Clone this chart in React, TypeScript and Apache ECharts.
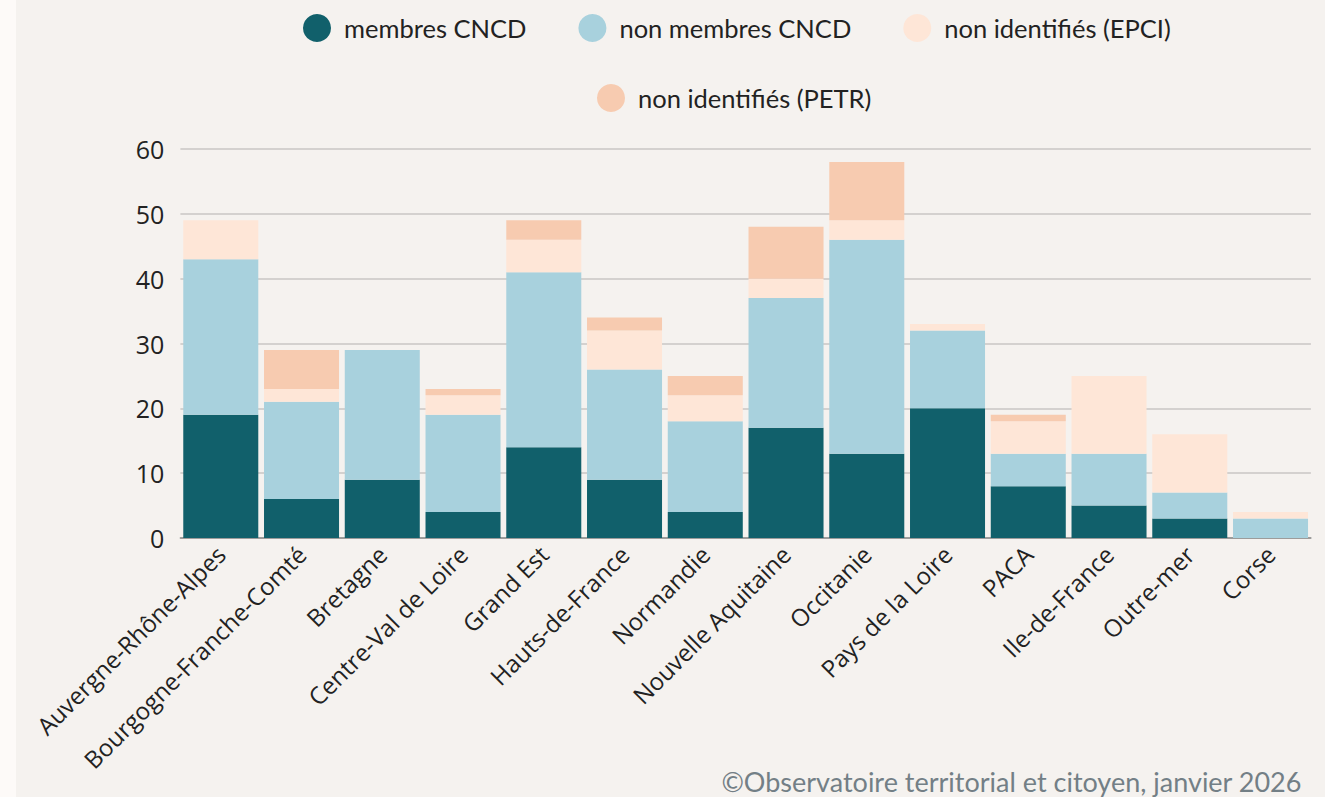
import React, { useEffect, useRef } from "react";
import * as echarts from "echarts";

const categories = [
  "Auvergne-Rhône-Alpes",
  "Bourgogne-Franche-Comté",
  "Bretagne",
  "Centre-Val de Loire",
  "Grand Est",
  "Hauts-de-France",
  "Normandie",
  "Nouvelle Aquitaine",
  "Occitanie",
  "Pays de la Loire",
  "PACA",
  "Ile-de-France",
  "Outre-mer",
  "Corse",
];
const membres = [19, 6, 9, 4, 14, 9, 4, 17, 13, 20, 8, 5, 3, 0];
const nonMembres = [24, 15, 20, 15, 27, 17, 14, 20, 33, 12, 5, 8, 4, 3];
const nonIdEPCI = [6, 2, 0, 3, 5, 6, 4, 3, 3, 1, 5, 12, 9, 1];
const nonIdPETR = [0, 6, 0, 1, 3, 2, 3, 8, 9, 0, 1, 0, 0, 0];

const seriesNames = ["membres CNCD", "non membres CNCD", "non identifiés (EPCI)", "non identifiés (PETR)"];
const colors = ["#11606b", "#a8d1dd", "#fee6d7", "#f7cbb0"];

export default function App() {
  const ref = useRef<HTMLDivElement>(null);
  useEffect(() => {
    if (!ref.current) return;
    const chart = echarts.init(ref.current, null, { renderer: "svg" });
    const legendText = { fontFamily: "Lato", fontSize: 25.5, color: "#222", padding: [0, 0, 0, 8] };
    const data = [membres, nonMembres, nonIdEPCI, nonIdPETR];
    chart.setOption({
      animation: false,
      backgroundColor: "#f5f2ef",
      color: colors,
      legend: [
        {
          data: seriesNames.slice(0, 3),
          left: 287,
          top: 14,
          padding: 0,
          icon: "circle",
          itemWidth: 28,
          itemHeight: 28,
          itemGap: 52,
          textStyle: legendText,
        },
        {
          data: seriesNames.slice(3),
          left: 581,
          top: 84,
          padding: 0,
          icon: "circle",
          itemWidth: 28,
          itemHeight: 28,
          itemGap: 52,
          textStyle: legendText,
        },
      ],
      grid: { left: 164.4, right: 14.1, top: 149, bottom: 259, containLabel: false },
      xAxis: {
        type: "category",
        data: categories,
        axisTick: { show: false },
        axisLine: { lineStyle: { color: "#8a8a8a", width: 1.5 } },
        axisLabel: {
          rotate: 45,
          interval: 0,
          margin: 12,
          fontFamily: "Open Sans",
          fontSize: 24,
          color: "#222",
        },
      },
      yAxis: {
        type: "value",
        min: 0,
        max: 60,
        interval: 10,
        axisLine: { show: false },
        axisTick: { show: false },
        splitLine: { lineStyle: { color: "#c9c6c4", width: 1.5 } },
        axisLabel: { margin: 16, fontFamily: "Open Sans", fontSize: 25, color: "#222" },
      },
      series: seriesNames.map((name, i) => ({
        name,
        type: "bar",
        stack: "total",
        data: data[i],
        barCategoryGap: "7.1%",
        itemStyle: { color: colors[i] },
      })),
      graphic: [
        {
          type: "text",
          right: 23,
          top: 768,
          style: {
            text: "©Observatoire territorial et citoyen, janvier 2026",
            fontFamily: "Lato",
            fontSize: 27,
            fill: "#737f86",
          },
        },
      ],
    });
    return () => chart.dispose();
  }, []);
  return (
    <div style={{ position: "fixed", left: 0, top: 0, width: 1325, height: 797, background: "#fdfaf8" }}>
      <div ref={ref} style={{ position: "absolute", left: 16, top: 0, width: 1309, height: 797 }} />
    </div>
  );
}
